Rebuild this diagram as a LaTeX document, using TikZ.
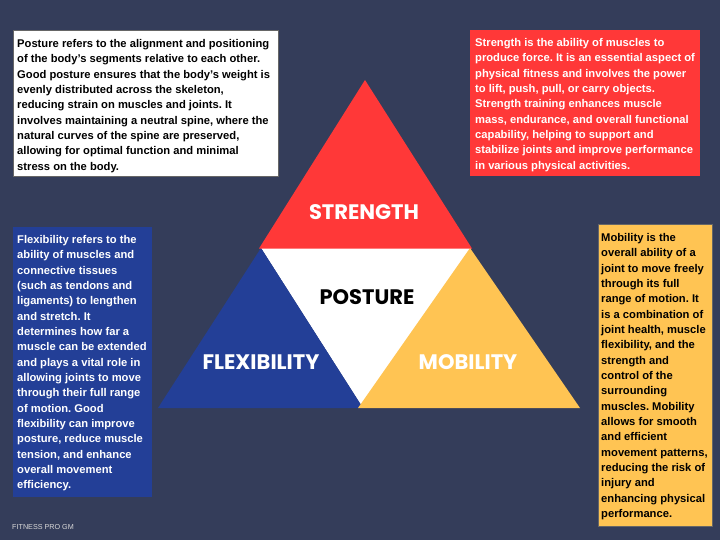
\documentclass[tikz,border=0pt]{standalone}
\usepackage{fontspec}
\setmainfont{Liberation Sans}
\newfontfamily\labelfont{Poppins}
\definecolor{bg}{HTML}{343D5A}
\definecolor{tred}{HTML}{FF3838}
\definecolor{tblue}{HTML}{233F97}
\definecolor{tyellow}{HTML}{FFC453}
\frenchspacing
\begin{document}
\begin{tikzpicture}[x=1pt,y=-1pt,
  desc/.style={anchor=north west,inner sep=0pt,align=left,font=\fontsize{11.2}{15.35}\selectfont\bfseries},
  tlabel/.style={font=\labelfont\bfseries\fontsize{21}{24}\selectfont,inner sep=0pt},
  panel/.style={draw=black!60,line width=0.6pt}]
\fill[bg] (0,0) rectangle (720,540);
\useasboundingbox (0,0) rectangle (720,540);
% triangles
\fill[white] (261,248) -- (471,248) -- (363,408) -- cycle;
\fill[tblue] (261,248) -- (158,408) -- (363,408) -- cycle;
\fill[tyellow] (470,248) -- (358,408) -- (580,408) -- cycle;
\fill[tred] (365,80) -- (259,248.5) -- (472,248.5) -- cycle;
\node[tlabel,text=white] (strength) at (364,212) {STRENGTH};
\node[tlabel,text=black] (posture) at (367,297) {POSTURE};
\node[tlabel,text=white] (flex) at (261,362) {FLEXIBILITY};
\node[tlabel,text=white] (mob) at (468,362) {MOBILITY};
% panels
\fill[white,panel] (13,30) rectangle (278,176);
\node[desc,text=black] (ptext) at (17,39) {Posture refers to the alignment and positioning\\
of the body’s segments relative to each other.\\
Good posture ensures that the body’s weight is\\
evenly distributed across the skeleton,\\
reducing strain on muscles and joints. It\\
involves maintaining a neutral spine, where the\\
natural curves of the spine are preserved,\\
allowing for optimal function and minimal\\
stress on the body.};
\fill[tred] (470,30) rectangle (700,176);
\node[desc,text=white] (stext) at (475,38) {Strength is the ability of muscles to\\
produce force. It is an essential aspect of\\
physical fitness and involves the power\\
to lift, push, pull, or carry objects.\\
Strength training enhances muscle\\
mass, endurance, and overall functional\\
capability, helping to support and\\
stabilize joints and improve performance\\
in various physical activities.};
\fill[tblue] (13,227) rectangle (152,497);
\node[desc,text=white] (ftext) at (17,235) {Flexibility refers to the\\
ability of muscles and\\
connective tissues\\
(such as tendons and\\
ligaments) to lengthen\\
and stretch. It\\
determines how far a\\
muscle can be extended\\
and plays a vital role in\\
allowing joints to move\\
through their full range\\
of motion. Good\\
flexibility can improve\\
posture, reduce muscle\\
tension, and enhance\\
overall movement\\
efficiency.};
\fill[tyellow,panel] (598,224) rectangle (712,526);
\node[desc,text=black] (mtext) at (601,233) {Mobility is the\\
overall ability of a\\
joint to move freely\\
through its full\\
range of motion. It\\
is a combination of\\
joint health, muscle\\
flexibility, and the\\
strength and\\
control of the\\
surrounding\\
muscles. Mobility\\
allows for smooth\\
and efficient\\
movement patterns,\\
reducing the risk of\\
injury and\\
enhancing physical\\
performance.};
\node[anchor=west,inner sep=0pt,text=black!15,font=\fontsize{7.2}{8}\selectfont] (footer) at (12,527) {FITNESS PRO GM};
\end{tikzpicture}
\end{document}
